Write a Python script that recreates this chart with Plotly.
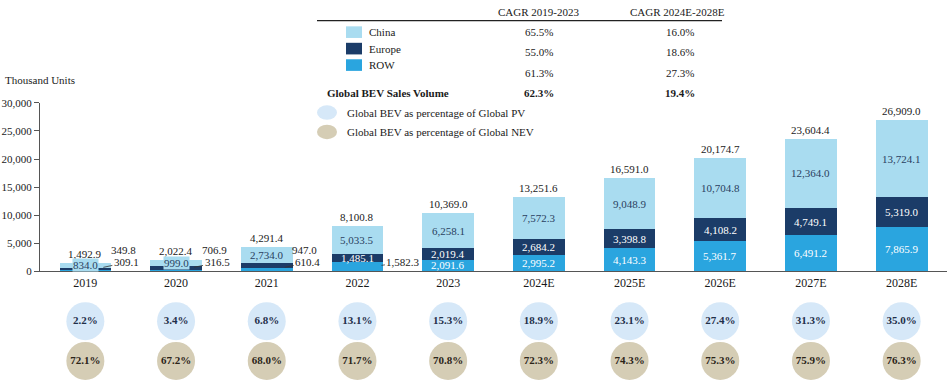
import plotly.graph_objects as go

# ---------------- data ----------------
years = ["2019", "2020", "2021", "2022", "2023", "2024E", "2025E", "2026E", "2027E", "2028E"]
china = [834.0, 999.0, 2734.0, 5033.5, 6258.1, 7572.3, 9048.9, 10704.8, 12364.0, 13724.1]
europe = [349.8, 706.9, 947.0, 1485.1, 2019.4, 2684.2, 3398.8, 4108.2, 4749.1, 5319.0]
row = [309.1, 316.5, 610.4, 1582.3, 2091.6, 2995.2, 4143.3, 5361.7, 6491.2, 7865.9]
total = [1492.9, 2022.4, 4291.4, 8100.8, 10369.0, 13251.6, 16591.0, 20174.7, 23604.4, 26909.0]
pv_share = [2.2, 3.4, 6.8, 13.1, 15.3, 18.9, 23.1, 27.4, 31.3, 35.0]
nev_share = [72.1, 67.2, 68.0, 71.7, 70.8, 72.3, 74.3, 75.3, 75.9, 76.3]

table_rows = ["China", "Europe", "ROW", "Global BEV Sales Volume"]
cagr_2019_2023 = ["65.5%", "55.0%", "61.3%", "62.3%"]
cagr_2024_2028 = ["16.0%", "18.6%", "27.3%", "19.4%"]
y_ticks = [0, 5000, 10000, 15000, 20000, 25000, 30000]

# ---------------- style ----------------
C_CHINA = "#A9DCF0"
C_EUROPE = "#1B3C68"
C_ROW = "#2AA5DF"
C_PV = "#D6E8F8"
C_NEV = "#D5CDB5"
FONT = "Liberation Serif"
TXT = "#1a1a1a"
W, H = 947, 380


def px(x):
    return x / W


def py(y):
    return 1 - y / H


fig = go.Figure()
fig.add_trace(go.Bar(x=years, y=row, marker=dict(color=C_ROW, line=dict(width=0)), name="ROW"))
fig.add_trace(go.Bar(x=years, y=europe, marker=dict(color=C_EUROPE, line=dict(width=0)), name="Europe"))
fig.add_trace(go.Bar(x=years, y=china, marker=dict(color=C_CHINA, line=dict(width=0)), name="China"))

fig.add_trace(go.Scatter(
    x=years, y=[1] * len(years), yaxis="y2", mode="markers+text",
    marker=dict(size=38, color=C_PV, line=dict(width=0)),
    text=[f"<b>{v:.1f}%</b>" for v in pv_share],
    textposition="middle center",
    textfont=dict(family=FONT, size=11, color="#1F2F4A"),
    cliponaxis=False, hoverinfo="skip"))
fig.add_trace(go.Scatter(
    x=years, y=[0] * len(years), yaxis="y2", mode="markers+text",
    marker=dict(size=38, color=C_NEV, line=dict(width=0)),
    text=[f"<b>{v:.1f}%</b>" for v in nev_share],
    textposition="middle center",
    textfont=dict(family=FONT, size=11, color="#2B2418"),
    cliponaxis=False, hoverinfo="skip"))

ann = []
shapes = []
lab_font = dict(family=FONT, size=11)


def dann(i, y, text, color, **kw):
    d = dict(x=i, y=y, xref="x", yref="y", text=text, showarrow=False,
             xanchor="center", yanchor="middle", font=dict(lab_font, color=color))
    d.update(kw)
    ann.append(d)


for i, yr in enumerate(years):
    # total on top
    dann(i, total[i], f"{total[i]:,.1f}", TXT, yanchor="bottom", yshift=1)
    # China label
    dann(i, row[i] + europe[i] + china[i] / 2, f"{china[i]:,.1f}", "#2A3F5F",
         bgcolor=C_CHINA, borderpad=0)
    # Europe label
    if europe[i] >= 1000:
        dann(i, row[i] + europe[i] / 2, f"{europe[i]:,.1f}", "white")
    else:
        dann(i, 0, f"{europe[i]:,.1f}", TXT, xshift=38, yshift=21)
    # ROW label
    if row[i] >= 1600:
        dann(i, row[i] / 2, f"{row[i]:,.1f}", "white")
    else:
        big = row[i] >= 1000
        dann(i, 0, f"{row[i]:,.1f}", TXT, showarrow=True, arrowhead=0,
             arrowwidth=0.8, arrowcolor="#333",
             xshift=24 if big else 18, yshift=6 if big else 4,
             ax=22 if big else 23, ay=-3 if big else -5, standoff=0)


def pann(x, y, text, xanchor="center", size=11):
    ann.append(dict(x=px(x), y=py(y), xref="paper", yref="paper", text=text,
                    showarrow=False, xanchor=xanchor, yanchor="middle",
                    font=dict(family=FONT, size=size, color=TXT)))


# ----- top table -----
pann(538, 6, "CAGR 2019-2023")
pann(677, 6, "CAGR 2024E-2028E")
shapes.append(dict(type="line", xref="paper", yref="paper", x0=px(317), x1=px(722),
                   y0=py(15), y1=py(15), line=dict(color="#222", width=1.2)))

label_y = [27, 44, 61]
value_y = [27, 48, 69, 90]
sw_colors = [C_CHINA, C_EUROPE, C_ROW]
for k in range(3):
    shapes.append(dict(type="rect", xref="paper", yref="paper",
                       x0=px(346), x1=px(362), y0=py(label_y[k] - 6), y1=py(label_y[k] + 6),
                       fillcolor=sw_colors[k], line=dict(width=0)))
    pann(367, label_y[k], table_rows[k], xanchor="left")
pann(325, value_y[3], f"<b>{table_rows[3]}</b>", xanchor="left")
for k in range(4):
    t1 = cagr_2019_2023[k] if k < 3 else f"<b>{cagr_2019_2023[k]}</b>"
    t2 = cagr_2024_2028[k] if k < 3 else f"<b>{cagr_2024_2028[k]}</b>"
    pann(539, value_y[k], t1)
    pann(680, value_y[k], t2)

# circle legend
for cy, col, txt in [(110, C_PV, "Global BEV as percentage of Global PV"),
                     (130, C_NEV, "Global BEV as percentage of Global NEV")]:
    shapes.append(dict(type="circle", xref="paper", yref="paper",
                       x0=px(317), x1=px(337), y0=py(cy - 7.5), y1=py(cy + 7.5),
                       fillcolor=col, line=dict(width=0)))
    pann(345, cy, txt, xanchor="left")

pann(3, 76, "Thousand Units", xanchor="left")

fig.update_layout(
    width=W, height=H,
    margin=dict(l=0, r=0, t=0, b=0, pad=0),
    paper_bgcolor="white", plot_bgcolor="white",
    barmode="stack", bargap=0.43, showlegend=False,
    font=dict(family=FONT, size=11, color=TXT),
    xaxis=dict(type="category", domain=[40 / W, 1], range=[-0.5, 9.5],
               showline=True, linecolor="#555", linewidth=1, ticks="",
               showgrid=False, anchor="y",
               tickfont=dict(family=FONT, size=12, color=TXT)),
    yaxis=dict(domain=[1 - 274 / H, 1 - 100 / H], range=[0, 30000],
               tickvals=y_ticks, tickformat=",", ticks="outside", ticklen=5,
               tickcolor="#555", showline=True, linecolor="#555", linewidth=1,
               showgrid=False, zeroline=False, anchor="x",
               tickfont=dict(family=FONT, size=11, color=TXT)),
    yaxis2=dict(domain=[0, 0.27], range=[-0.33, 2.17], visible=False, anchor="x"),
    annotations=ann, shapes=shapes,
)

fig.write_html("out.html", config={"displayModeBar": False},
               post_script="document.body.style.margin='0';document.body.style.overflow='hidden';")
